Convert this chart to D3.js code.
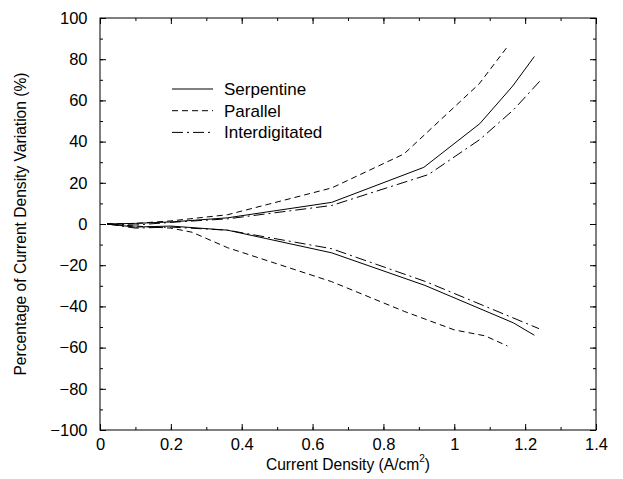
<!DOCTYPE html>
<html>
<head>
<meta charset="utf-8">
<script src="https://cdn.jsdelivr.net/npm/d3@7"></script>
<style>
body { margin: 0; background: #fff; }
svg text { font-family: "Liberation Sans", Arial, sans-serif; fill: #000; }
</style>
</head>
<body>
<div id="chart"></div>
<script>
var seriesNames = ["Serpentine", "Parallel", "Interdigitated"];
var dashes = [null, "6,4", "11,4,2,4"];

// upper and lower branches, [current density, % variation]
var serpUpper = [[0.02, 0], [0.1, 0.3], [0.2, 1], [0.36, 3], [0.654, 10.5], [0.914, 27.5], [1.072, 48.7], [1.165, 67], [1.226, 81.3]];
var serpLower = [[0.02, 0], [0.1, -1.5], [0.2, -1], [0.36, -3], [0.654, -14], [0.917, -29.8], [1.167, -48], [1.226, -54]];
var paraUpper = [[0.02, 0], [0.1, 0.3], [0.2, 1.5], [0.36, 4.5], [0.654, 17.5], [0.858, 34], [1.07, 68], [1.148, 85.6]];
var paraLower = [[0.02, 0], [0.1, -1], [0.2, -2], [0.26, -4], [0.36, -11.5], [0.654, -28], [0.86, -42.5], [1.0, -51.4], [1.087, -54.3], [1.15, -59.2]];
var interUpper = [[0.02, 0], [0.1, -0.5], [0.2, 0.8], [0.36, 2.5], [0.654, 9], [0.927, 24], [1.072, 41], [1.167, 55.4], [1.245, 70]];
var interLower = [[0.02, 0], [0.1, -2], [0.2, -1.5], [0.36, -3], [0.654, -12], [0.92, -28], [1.239, -50.8]];

var xTicks = [0, 0.2, 0.4, 0.6, 0.8, 1, 1.2, 1.4];
var yTicks = [-100, -80, -60, -40, -20, 0, 20, 40, 60, 80, 100];

function init() {
    var w = 623, h = 479;
    var left = 100, top = 18, right = 596, bottom = 430;

    var svg = d3.select("#chart").append("svg")
        .attr("width", w)
        .attr("height", h);

    var x = d3.scaleLinear().domain([0, 1.4]).range([left, right]);
    var y = d3.scaleLinear().domain([-100, 100]).range([bottom, top]);

    var xMinor = d3.range(0, 1.41, 0.1);
    var yMinor = d3.range(-100, 101, 10);
    var fmtY = d => d < 0 ? "\u2212" + Math.abs(d) : String(d);

    function styleAxis(g) {
        g.select(".domain").remove();
        g.selectAll("line").attr("stroke", "#000");
        g.selectAll("text").attr("font-size", "16.5px").attr("fill", "#000")
            .attr("font-family", "Liberation Sans, Arial, sans-serif");
    }

    // bottom axis
    svg.append("g").attr("transform", `translate(0,${bottom})`)
        .call(d3.axisBottom(x).tickValues(xMinor).tickSize(-3).tickFormat(""))
        .call(styleAxis);
    svg.append("g").attr("transform", `translate(0,${bottom})`)
        .call(d3.axisBottom(x).tickValues(xTicks).tickSizeInner(-6).tickPadding(8).tickFormat(d3.format("")))
        .call(styleAxis);
    // top axis
    svg.append("g").attr("transform", `translate(0,${top})`)
        .call(d3.axisTop(x).tickValues(xMinor).tickSize(-3).tickFormat(""))
        .call(styleAxis);
    svg.append("g").attr("transform", `translate(0,${top})`)
        .call(d3.axisTop(x).tickValues(xTicks).tickSize(-6).tickFormat(""))
        .call(styleAxis);
    // left axis
    svg.append("g").attr("transform", `translate(${left},0)`)
        .call(d3.axisLeft(y).tickValues(yMinor).tickSize(-3).tickFormat(""))
        .call(styleAxis);
    svg.append("g").attr("transform", `translate(${left},0)`)
        .call(d3.axisLeft(y).tickValues(yTicks).tickSizeInner(-6).tickPadding(12.5).tickFormat(fmtY))
        .call(styleAxis);
    // right axis
    svg.append("g").attr("transform", `translate(${right},0)`)
        .call(d3.axisRight(y).tickValues(yMinor).tickSize(-3).tickFormat(""))
        .call(styleAxis);
    svg.append("g").attr("transform", `translate(${right},0)`)
        .call(d3.axisRight(y).tickValues(yTicks).tickSize(-6).tickFormat(""))
        .call(styleAxis);

    // frame
    svg.append("rect")
        .attr("x", left).attr("y", top)
        .attr("width", right - left).attr("height", bottom - top)
        .attr("fill", "none").attr("stroke", "#000").attr("stroke-width", 1);

    var line = d3.line().x(d => x(d[0])).y(d => y(d[1]));
    var curves = [
        [serpUpper, 0], [serpLower, 0],
        [paraUpper, 1], [paraLower, 1],
        [interUpper, 2], [interLower, 2]
    ];
    svg.selectAll(".curve")
        .data(curves)
        .enter()
        .append("path")
        .attr("class", "curve")
        .attr("d", d => line(d[0]))
        .attr("fill", "none")
        .attr("stroke", "#000")
        .attr("stroke-width", 1)
        .attr("stroke-dasharray", d => dashes[d[1]]);

    // legend
    var legend = svg.append("g").attr("transform", "translate(172,89)");
    seriesNames.forEach(function (name, i) {
        legend.append("line")
            .attr("x1", 0).attr("x2", 41)
            .attr("y1", i * 21.7).attr("y2", i * 21.7)
            .attr("stroke", "#000")
            .attr("stroke-dasharray", dashes[i]);
        legend.append("text")
            .attr("x", 52).attr("y", i * 21.7 + 6)
            .attr("font-size", "17px")
            .text(name);
    });

    // axis titles
    var xt = svg.append("text")
        .attr("x", (left + right) / 2)
        .attr("y", 470)
        .attr("text-anchor", "middle")
        .attr("font-size", "15.6px");
    xt.append("tspan").text("Current Density (A/cm");
    xt.append("tspan").attr("font-size", "10px").attr("dy", -8).text("2");
    xt.append("tspan").attr("dy", 8).text(")");

    svg.append("text")
        .attr("transform", "rotate(-90)")
        .attr("x", -(top + bottom) / 2)
        .attr("y", 25.5)
        .attr("text-anchor", "middle")
        .attr("font-size", "15.6px")
        .text("Percentage of Current Density Variation (%)");
}

window.onload = init;
</script>
</body>
</html>
